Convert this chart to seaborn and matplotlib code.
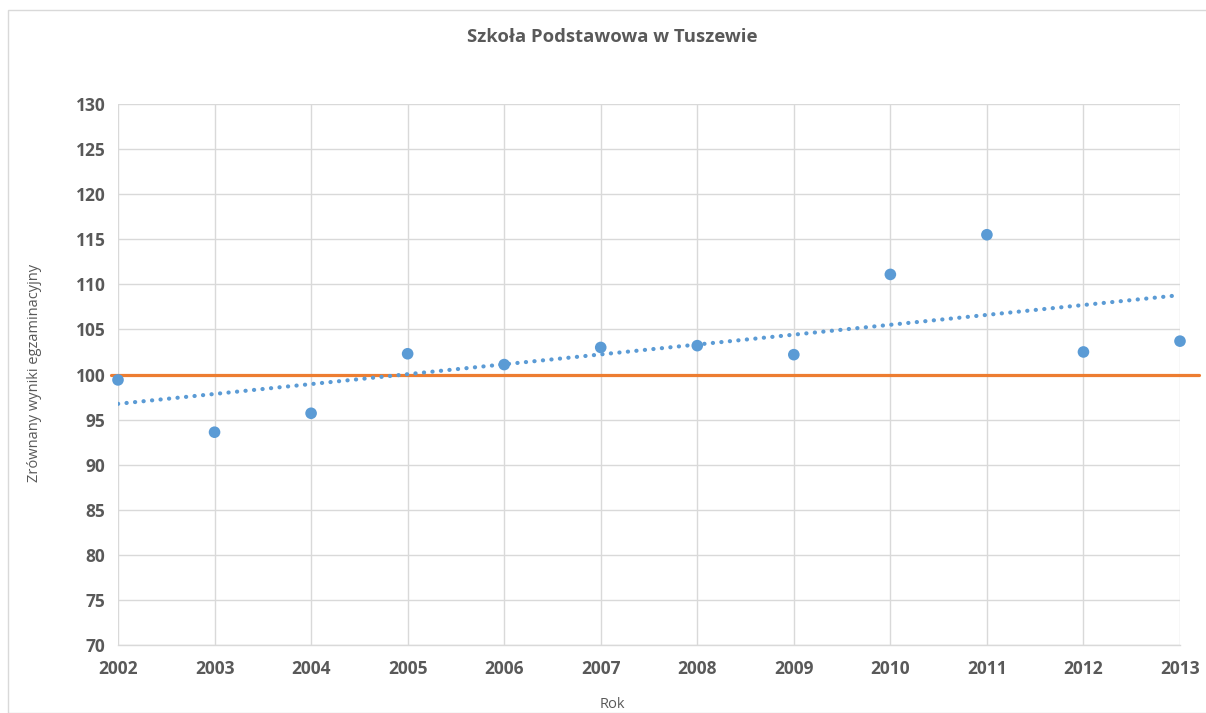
import numpy as np
import pandas as pd
import matplotlib
matplotlib.use("Agg")
import matplotlib.pyplot as plt
import seaborn as sns

years = [2002, 2003, 2004, 2005, 2006, 2007, 2008, 2009, 2010, 2011, 2012, 2013]
scores = [99.4, 93.6, 95.7, 102.3, 101.1, 103.0, 103.2, 102.2, 111.1, 115.5, 102.5, 103.7]
ref_x = [2001.93, 2013.2]
ref_y = [100, 100]
y_ticks = [70, 75, 80, 85, 90, 95, 100, 105, 110, 115, 120, 125, 130]

title = "Szkoła Podstawowa w Tuszewie"
xlabel = "Rok"
ylabel = "Zrównany wyniki egzaminacyjny"

sns.set_theme(style="white")
plt.rcParams['font.family'] = ['Open Sans', 'DejaVu Sans']

df = pd.DataFrame({"Rok": years, "Wynik": scores})

BLUE = "#5b9bd5"
ORANGE = "#ed7d31"
GRID = "#d9d9d9"
TEXT = "#595959"

fig = plt.figure(figsize=(12.06, 7.13), dpi=100)
ax = fig.add_axes([118/1206, 1 - 645/713, (1180-118)/1206, (645-104)/713])

# chart border
fig.patches.append(plt.Rectangle((8/1206, 0.0), 1.0, 1 - 10/713, transform=fig.transFigure,
                                 fill=False, edgecolor="#d9d9d9", linewidth=1.0))

# trend line
sns.regplot(data=df, x="Rok", y="Wynik", ax=ax, ci=None, scatter=False, truncate=True,
            line_kws=dict(color=BLUE, linestyle=(0, (0.05, 2.0)), linewidth=3.0,
                          dash_capstyle="round", solid_capstyle="round", zorder=3))
# reference line
ax.plot(ref_x, ref_y, color=ORANGE, linewidth=2.3, clip_on=False, zorder=2)
# points
sns.scatterplot(data=df, x="Rok", y="Wynik", ax=ax, color=BLUE, s=70, edgecolor="none",
                zorder=4, clip_on=False)

ax.set_xlim(2002, 2013)
ax.set_ylim(70, 130)
ax.set_xticks(years)
ax.set_yticks(y_ticks)
ax.set_xticklabels([str(y) for y in years], fontsize=12.5, fontweight="bold", color=TEXT)
ax.set_yticklabels([str(t) for t in y_ticks], fontsize=12.5, fontweight="bold", color=TEXT)
ax.tick_params(axis="x", length=0, pad=11)
ax.tick_params(axis="y", length=0, pad=9)
ax.grid(True, color=GRID, linewidth=1.0)
ax.set_axisbelow(True)
for s in ["top", "right", "left"]:
    ax.spines[s].set_visible(False)
ax.spines["bottom"].set_color(GRID)
ax.spines["bottom"].set_linewidth(1.0)

ax.set_xlabel("")
ax.set_ylabel("")
fig.text(612/1206, 1 - 705/713, xlabel, ha="center", va="center", fontsize=10.5, color=TEXT)
fig.text(35/1206, 1 - 373/713, ylabel, ha="center", va="center", rotation=90, fontsize=10.5, color=TEXT)
fig.text(612/1206, 1 - 37/713, title, ha="center", va="center", fontsize=13.3, fontweight="bold", color=TEXT)

fig.savefig("out.png", dpi=100)
